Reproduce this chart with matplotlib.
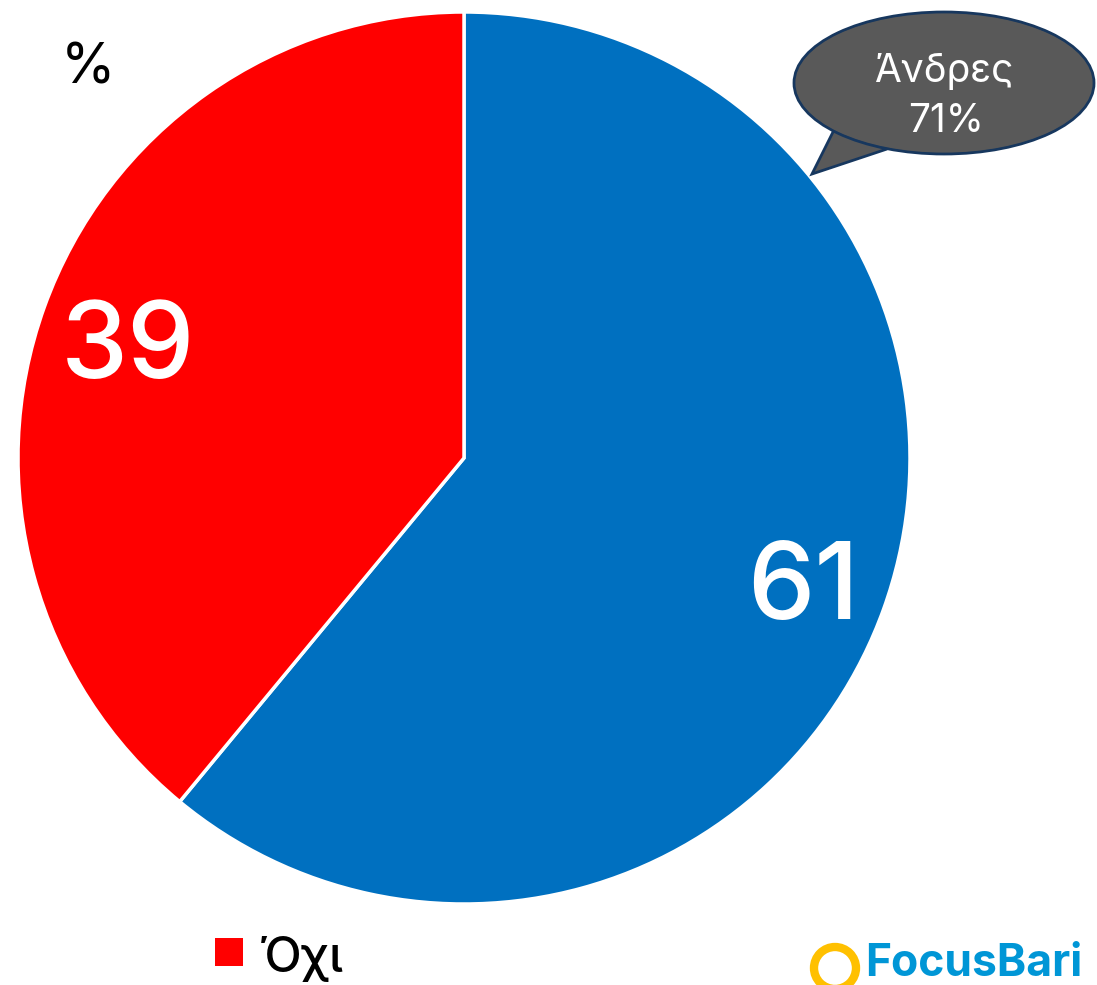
import matplotlib.pyplot as plt
from matplotlib.patches import Ellipse, Polygon, Circle, Rectangle

# data
categories = ['Ναι', 'Όχι']
values = [61, 39]
colors = ['#0070C0', '#FF0000']
callout_label = 'Άνδρες'
callout_value = 71

W, H = 1097, 985
plt.rcParams['font.family'] = ['Inter', 'Liberation Sans', 'DejaVu Sans']

fig = plt.figure(figsize=(W / 100, H / 100), dpi=100)
ax = fig.add_axes([0, 0, 1, 1])


def Y(y):
    # image coordinate (top down) -> axes coordinate
    return H - y


# pie
wedges, _ = ax.pie(values, colors=colors, startangle=90, counterclock=False,
                   center=(464, Y(458)), radius=446, frame=True,
                   wedgeprops=dict(edgecolor='white', linewidth=2.5))
ax.set_xlim(0, W)
ax.set_ylim(0, H)
ax.set_aspect('equal')
ax.axis('off')

# slice labels
ax.text(803, Y(619), str(values[0]), color='white', fontsize=77,
        fontweight='medium', ha='center', va='baseline')
ax.text(128, Y(378), str(values[1]), color='white', fontsize=77,
        fontweight='medium', ha='center', va='baseline')

# percent sign
ax.text(88, Y(83), '%', fontsize=40, ha='center', va='baseline')

# callout bubble
tail = Polygon([(835, Y(128)), (812, Y(174)), (887, Y(149))], closed=True,
               facecolor='#595959', edgecolor='#17375E', linewidth=2, zorder=4)
ax.add_patch(tail)
bubble = Ellipse((944, Y(83)), 300, 142, facecolor='#595959',
                 edgecolor='#17375E', linewidth=2, zorder=5)
ax.add_patch(bubble)
# hide the tail's edge inside the bubble
ax.add_patch(Ellipse((944, Y(83)), 296, 138, facecolor='#595959',
                     edgecolor='none', zorder=6))
ax.text(944, Y(82), callout_label, color='white', fontsize=28,
        ha='center', va='baseline', zorder=7)
ax.text(946, Y(132), f'{callout_value}%', color='white', fontsize=28,
        ha='center', va='baseline', zorder=7)

# legend (only the second category is visible)
ax.add_patch(Rectangle((215, Y(966)), 28, 28, facecolor=colors[1],
                       edgecolor='none'))
ax.text(259, Y(972), categories[1], fontsize=35, fontweight='medium',
        ha='left', va='baseline')

# logo
ax.add_patch(Circle((835, Y(968)), 21, facecolor='none', edgecolor='#FFC000',
                    linewidth=6))
ax.text(865, Y(976), 'FocusBari', color='#0096D6', fontsize=32,
        fontweight='bold', ha='left', va='baseline')

fig.savefig('out.png', dpi=100)
